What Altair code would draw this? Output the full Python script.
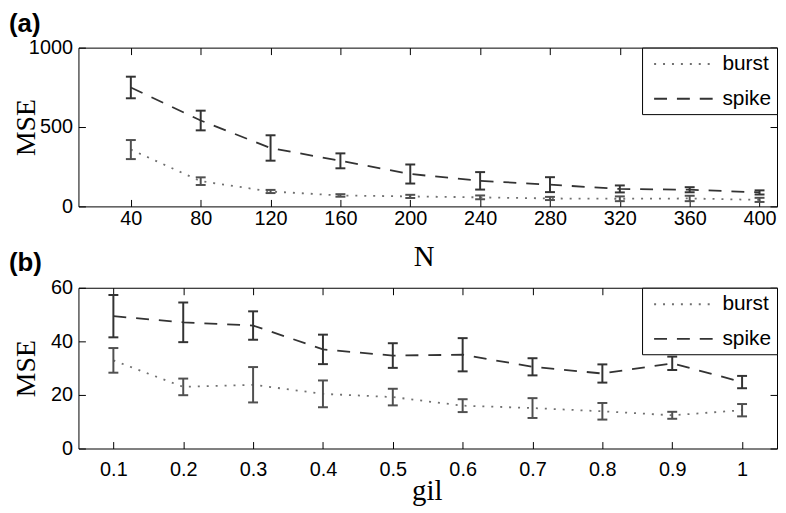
import altair as alt
import pandas as pd

SANS = "Liberation Sans"
SERIF = "Liberation Serif"

# ---- data: panel (a) ----
N_values = [40, 80, 120, 160, 200, 240, 280, 320, 360, 400]
burst_a_mean = [358, 159, 94, 69, 63, 57, 50, 48, 50, 41]
burst_a_err = [60, 24, 10, 8, 10, 12, 10, 15, 17, 13]
spike_a_mean = [749, 541, 368, 287, 204, 161, 137, 110, 105, 88]
spike_a_err = [68, 62, 80, 47, 60, 55, 47, 22, 16, 13]

# ---- data: panel (b) ----
gil_values = [0.1, 0.2, 0.3, 0.4, 0.5, 0.6, 0.7, 0.8, 0.9, 1.0]
burst_b_mean = [32.9, 23.0, 23.8, 20.4, 19.2, 16.0, 15.1, 13.9, 12.4, 14.3]
burst_b_err = [4.6, 3.1, 6.6, 5.0, 3.1, 2.4, 3.7, 3.1, 1.3, 2.3]
spike_b_mean = [49.4, 47.1, 45.9, 37.0, 34.7, 35.0, 30.5, 28.0, 31.8, 24.8]
spike_b_err = [7.9, 7.4, 5.3, 5.5, 4.6, 6.2, 3.2, 3.4, 2.5, 2.3]

series_names = ["burst", "spike"]
line_colors = ["#707070", "#333333"]
bar_colors = ["#505050", "#333333"]
dash_styles = [[2, 7], [13, 10]]
panel_labels = ["(a)", "(b)"]


def make_df(xname, xs, bm, be, sm, se):
    rows = []
    for s, means, errs in (("burst", bm, be), ("spike", sm, se)):
        for x, m, e in zip(xs, means, errs):
            rows.append({xname: x, "series": s, "MSE": m, "lo": m - e, "hi": m + e})
    return pd.DataFrame(rows)


def panel(df, xfield, xdomain, xticks, xfmt, xtitle, ydomain, yticks, label,
          width, height, title_x, title_y, xlab_pad, label_y):
    xs = alt.Scale(domain=xdomain, nice=False, zero=False)
    ys = alt.Scale(domain=ydomain, nice=False, zero=False)
    common = dict(tickSize=7, offset=-7, domain=False, grid=False, tickColor="black",
                  tickWidth=1)
    bottom = alt.Axis(orient="bottom", values=xticks, format=xfmt, labelPadding=xlab_pad,
                      labelFont=SANS, labelFontSize=20, labelColor="black",
                      labelFlush=False, labelOverlap=False,
                      title=xtitle, titleX=title_x, titleY=title_y, titleAlign="center",
                      titleBaseline="alphabetic", titleFont=SERIF, titleFontSize=29,
                      titleFontWeight="normal", titleColor="black", **common)
    left = alt.Axis(orient="left", values=yticks, format="d", labelPadding=6,
                    labelFont=SANS, labelFontSize=20, labelColor="black",
                    labelFlush=False, labelOverlap=False,
                    title="MSE", titleX=-51, titleY=height / 2, titleAngle=270,
                    titleAlign="center", titleBaseline="alphabetic", titleFont=SERIF,
                    titleFontSize=28, titleFontWeight="normal", titleColor="black",
                    **common)
    top = alt.Axis(orient="top", values=xticks, labels=False, title=None, **common)
    right = alt.Axis(orient="right", values=yticks, labels=False, title=None, **common)

    legend = alt.Legend(title=None, orient="top-right",
                        labelExpr="datum.label + '\u00a0\u00a0'")
    line = alt.Chart(df).mark_line(strokeWidth=1.8).encode(
        x=alt.X(f"{xfield}:Q", scale=xs, axis=bottom),
        y=alt.Y("MSE:Q", scale=ys, axis=left),
        color=alt.Color("series:N", scale=alt.Scale(domain=series_names, range=line_colors), legend=legend),
        strokeDash=alt.StrokeDash("series:N", scale=alt.Scale(domain=series_names, range=dash_styles), legend=legend),
    )
    layers = [line]
    first = True
    for s, col in zip(series_names, bar_colors):
        sub = alt.Chart(df).transform_filter(alt.datum.series == s)
        rule = sub.mark_rule(color=col, strokeWidth=2).encode(
            x=alt.X(f"{xfield}:Q", scale=xs, axis=top if first else None),
            y=alt.Y("lo:Q", scale=ys, axis=right if first else None),
            y2="hi:Q",
        )
        first = False
        cap_lo = sub.mark_tick(orient="horizontal", size=10, thickness=2, color=col, opacity=1).encode(
            x=alt.X(f"{xfield}:Q", scale=xs, axis=None),
            y=alt.Y("lo:Q", scale=ys, axis=None),
        )
        cap_hi = sub.mark_tick(orient="horizontal", size=10, thickness=2, color=col, opacity=1).encode(
            x=alt.X(f"{xfield}:Q", scale=xs, axis=None),
            y=alt.Y("hi:Q", scale=ys, axis=None),
        )
        layers += [rule, cap_lo, cap_hi]
    txt = alt.Chart(pd.DataFrame({"label": [label]})).mark_text(
        align="left", baseline="top", font=SANS, fontSize=26, fontWeight="bold", color="black"
    ).encode(text="label:N", x=alt.value(-70), y=alt.value(label_y))
    layers.append(txt)
    return alt.layer(*layers).resolve_axis(x="independent", y="independent").properties(
        width=width, height=height
    )


df_a = make_df("N", N_values, burst_a_mean, burst_a_err, spike_a_mean, spike_a_err)
df_b = make_df("gil", gil_values, burst_b_mean, burst_b_err, spike_b_mean, spike_b_err)

pa = panel(df_a, "N", [10, 410], N_values, "d", "N", [0, 1000], [0, 500, 1000], panel_labels[0],
           704, 160, 348, 67, 2, -37)
pb = panel(df_b, "gil", [0.05, 1.05], gil_values, "~g", "gil", [0, 60], [0, 20, 40, 60], panel_labels[1],
           704, 162, 351, 58, 11, -38)

chart = alt.vconcat(pa, pb, spacing=82, bounds="flush").resolve_scale(
    x="independent", y="independent", color="independent", strokeDash="independent"
).resolve_legend(color="independent", strokeDash="independent").properties(
    padding=0
).configure_view(
    stroke="black", strokeWidth=1
).configure_legend(
    orient="top-right", offset=0, padding=5, rowPadding=13,
    strokeColor="black", fillColor="white",
    labelFont=SANS, labelFontSize=21, labelColor="black",
    symbolType="M-0.42,0H5.58", symbolSize=430, symbolStrokeWidth=2, labelOffset=53,
    cornerRadius=0,
)

chart.save("out.html", embed_options={"renderer": "svg", "actions": False})
